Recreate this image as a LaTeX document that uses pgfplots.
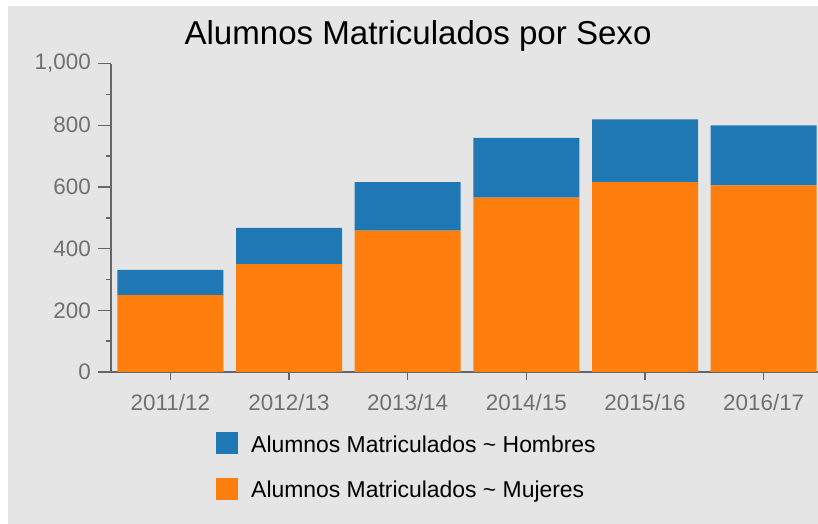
\documentclass[border=0pt]{standalone}
\usepackage{pgfplots}
\pgfplotsset{compat=1.18}
\usepackage{fontspec}
\setmainfont{Liberation Sans}
\definecolor{bgc}{RGB}{229,229,229}
\definecolor{hbl}{RGB}{31,119,180}
\definecolor{mor}{RGB}{255,127,14}
\definecolor{axc}{RGB}{102,102,102}
\definecolor{tlc}{RGB}{112,112,112}
\pgfplotstableread{
x mujeres hombres
0 249 82
1 350 117
2 458 158
3 565 194
4 616 203
5 605 195
}\datatable
\begin{document}
\begin{tikzpicture}[x=1bp,y=1bp]
\path[use as bounding box] (0,0) rectangle (818,524);
\fill[bgc] (8,0) rectangle (818,518);
\node[anchor=base, font=\fontsize{33.2}{34}\selectfont, inner sep=0pt] at (418,479) {Alumnos Matriculados por Sexo};
\begin{axis}[
  at={(111bp,152bp)}, anchor=south west,
  width=712bp, height=308.4bp, scale only axis,
  xmin=-0.5, xmax=5.5, ymin=0, ymax=1000,
  ybar stacked, bar width=106bp,
  axis lines=left, axis line style={-, axc},
  x axis line style={line width=1.5bp},
  y axis line style={line width=2.5bp},
  xtick={0,...,5},
  xticklabels={2011/12,2012/13,2013/14,2014/15,2015/16,2016/17},
  ytick={0,200,...,1000}, minor ytick={100,300,...,900},
  tick align=outside, tick style={axc, line width=1.5bp},
  major tick length=13bp, minor tick length=5bp,
  xtick style={/pgfplots/major tick length=8bp},
  /pgf/number format/assume math mode=true,
  /pgf/number format/1000 sep={,},
  ticklabel style={font=\fontsize{22.5}{23}\selectfont, text=tlc, inner sep=0pt},
  xticklabel style={anchor=base, yshift=-26bp},
  yticklabel style={anchor=east, xshift=-7bp},
  reverse legend,
  legend cell align=left,
  legend style={at={(axis description cs:0.1475,-0.1936)}, anchor=north west,
    draw=none, fill=none, inner sep=0pt, row sep=19.3bp, column sep=13bp,
    font=\fontsize{23}{23}\selectfont,
    nodes={inner sep=0pt, text height=17bp, text depth=6bp}},
  legend image code/.code={\fill[#1,draw=none] (0bp,-7.2bp) rectangle (22bp,14.8bp);},
]
\addplot[fill=mor, draw=none] table[x=x, y=mujeres] {\datatable};
\addlegendentry{Alumnos Matriculados \textasciitilde{} Mujeres}
\addplot[fill=hbl, draw=none] table[x=x, y=hombres] {\datatable};
\addlegendentry{Alumnos Matriculados \textasciitilde{} Hombres}
\end{axis}
\end{tikzpicture}
\end{document}
